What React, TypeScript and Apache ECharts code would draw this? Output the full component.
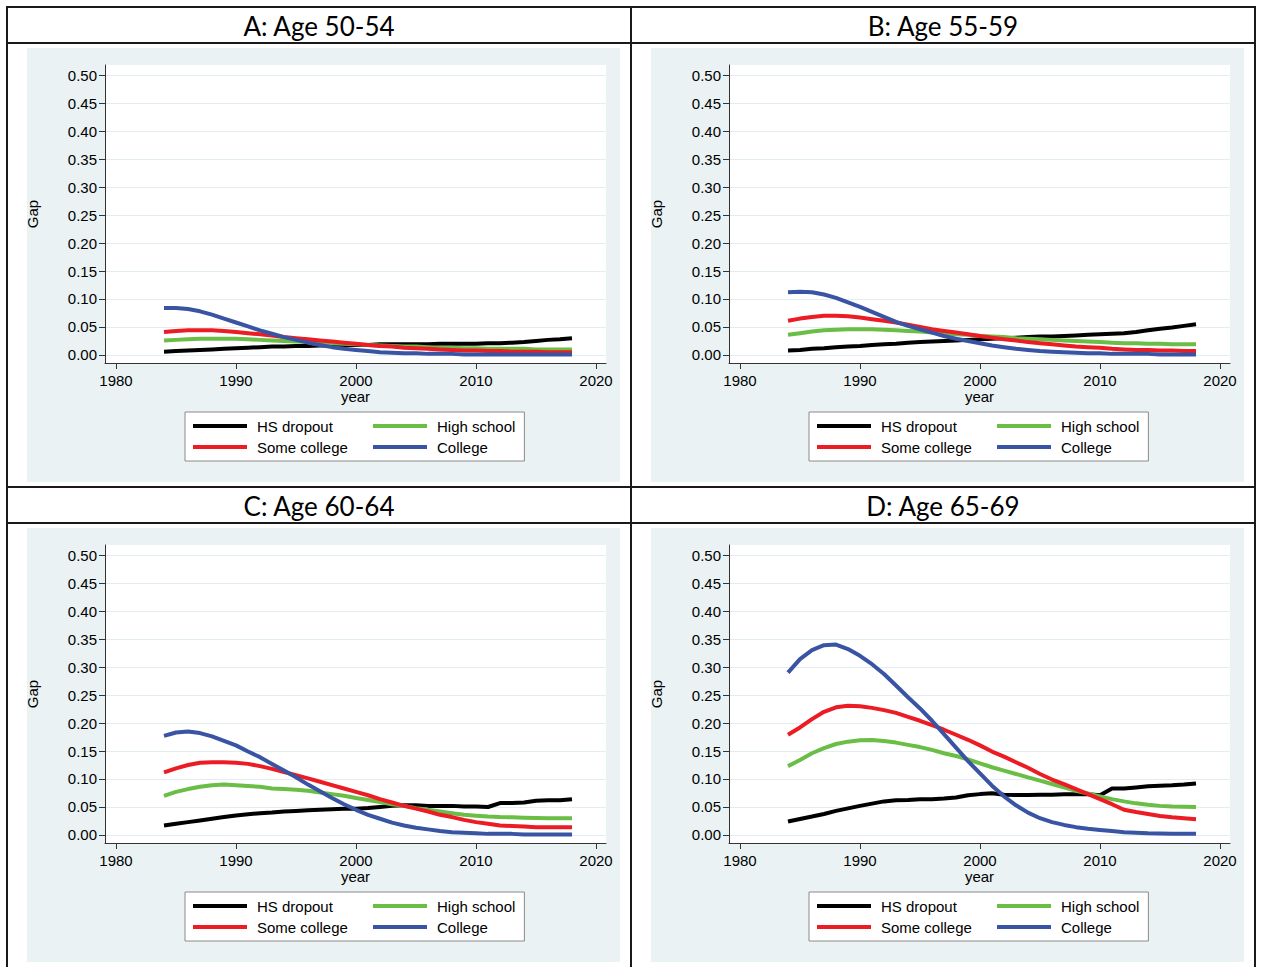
import React, { useEffect, useRef } from "react";
import * as echarts from "echarts";

const years = [1984, 1985, 1986, 1987, 1988, 1989, 1990, 1991, 1992, 1993, 1994, 1995, 1996, 1997, 1998, 1999, 2000, 2001, 2002, 2003, 2004, 2005, 2006, 2007, 2008, 2009, 2010, 2011, 2012, 2013, 2014, 2015, 2016, 2017, 2018];

const seriesNames = ["HS dropout", "High school", "Some college", "College"];
const seriesColors = ["#000000", "#6abd45", "#ec1c24", "#3a54a4"];
const xTicks = [1980, 1990, 2000, 2010, 2020];
const yTicks = [0, 0.05, 0.1, 0.15, 0.2, 0.25, 0.3, 0.35, 0.4, 0.45, 0.5];
const panelTitles = ["A: Age 50-54", "B: Age 55-59", "C: Age 60-64", "D: Age 65-69"];

// Panel A: Age 50-54
const A_dropout = [0.006, 0.007, 0.008, 0.009, 0.010, 0.011, 0.012, 0.013, 0.014, 0.015, 0.015, 0.016, 0.016, 0.017, 0.017, 0.018, 0.018, 0.018, 0.019, 0.019, 0.019, 0.019, 0.019, 0.020, 0.020, 0.020, 0.020, 0.021, 0.021, 0.022, 0.023, 0.025, 0.027, 0.028, 0.030];
const A_high = [0.026, 0.027, 0.028, 0.029, 0.029, 0.029, 0.029, 0.028, 0.027, 0.026, 0.025, 0.024, 0.023, 0.022, 0.021, 0.020, 0.019, 0.018, 0.017, 0.016, 0.015, 0.015, 0.014, 0.013, 0.013, 0.012, 0.012, 0.011, 0.011, 0.011, 0.011, 0.010, 0.010, 0.010, 0.010];
const A_some = [0.041, 0.043, 0.044, 0.044, 0.044, 0.043, 0.041, 0.039, 0.037, 0.035, 0.032, 0.030, 0.028, 0.026, 0.024, 0.022, 0.020, 0.018, 0.016, 0.015, 0.013, 0.012, 0.011, 0.010, 0.009, 0.008, 0.008, 0.007, 0.007, 0.006, 0.006, 0.006, 0.005, 0.005, 0.005];
const A_college = [0.084, 0.084, 0.082, 0.078, 0.072, 0.065, 0.058, 0.051, 0.044, 0.038, 0.032, 0.027, 0.022, 0.018, 0.014, 0.011, 0.009, 0.007, 0.005, 0.004, 0.003, 0.003, 0.002, 0.002, 0.002, 0.001, 0.001, 0.001, 0.001, 0.001, 0.001, 0.001, 0.001, 0.001, 0.001];

// Panel B: Age 55-59
const B_dropout = [0.008, 0.009, 0.011, 0.012, 0.014, 0.015, 0.016, 0.018, 0.019, 0.020, 0.022, 0.023, 0.024, 0.025, 0.026, 0.027, 0.028, 0.029, 0.030, 0.031, 0.032, 0.033, 0.033, 0.034, 0.035, 0.036, 0.037, 0.038, 0.039, 0.041, 0.044, 0.047, 0.049, 0.052, 0.055];
const B_high = [0.036, 0.039, 0.042, 0.044, 0.045, 0.046, 0.046, 0.046, 0.045, 0.044, 0.043, 0.042, 0.040, 0.039, 0.037, 0.036, 0.034, 0.033, 0.032, 0.030, 0.029, 0.028, 0.027, 0.026, 0.025, 0.024, 0.023, 0.022, 0.021, 0.021, 0.020, 0.020, 0.019, 0.019, 0.019];
const B_some = [0.061, 0.065, 0.068, 0.070, 0.070, 0.069, 0.067, 0.064, 0.061, 0.058, 0.054, 0.050, 0.046, 0.043, 0.040, 0.037, 0.034, 0.031, 0.028, 0.026, 0.023, 0.021, 0.019, 0.017, 0.015, 0.014, 0.013, 0.011, 0.010, 0.009, 0.009, 0.008, 0.008, 0.007, 0.007];
const B_college = [0.112, 0.113, 0.112, 0.108, 0.102, 0.094, 0.086, 0.077, 0.068, 0.059, 0.052, 0.046, 0.040, 0.034, 0.029, 0.025, 0.021, 0.017, 0.014, 0.011, 0.009, 0.007, 0.006, 0.005, 0.004, 0.003, 0.003, 0.002, 0.002, 0.002, 0.002, 0.001, 0.001, 0.001, 0.001];

// Panel C: Age 60-64
const C_dropout = [0.017, 0.020, 0.023, 0.026, 0.029, 0.032, 0.035, 0.037, 0.039, 0.040, 0.042, 0.043, 0.044, 0.045, 0.046, 0.047, 0.047, 0.048, 0.050, 0.052, 0.053, 0.053, 0.052, 0.052, 0.052, 0.051, 0.051, 0.050, 0.057, 0.057, 0.058, 0.061, 0.062, 0.062, 0.064];
const C_high = [0.070, 0.077, 0.082, 0.086, 0.089, 0.090, 0.089, 0.0875, 0.086, 0.083, 0.082, 0.081, 0.079, 0.076, 0.073, 0.070, 0.066, 0.0625, 0.059, 0.055, 0.052, 0.048, 0.045, 0.042, 0.039, 0.036, 0.0345, 0.033, 0.032, 0.0315, 0.031, 0.0305, 0.030, 0.030, 0.0298];
const C_some = [0.112, 0.119, 0.125, 0.129, 0.130, 0.130, 0.129, 0.127, 0.123, 0.118, 0.1125, 0.107, 0.101, 0.095, 0.089, 0.083, 0.077, 0.071, 0.064, 0.058, 0.052, 0.047, 0.042, 0.036, 0.032, 0.027, 0.023, 0.020, 0.017, 0.016, 0.015, 0.014, 0.014, 0.014, 0.014];
const C_college = [0.177, 0.183, 0.185, 0.182, 0.176, 0.168, 0.160, 0.149, 0.139, 0.127, 0.115, 0.103, 0.090, 0.078, 0.066, 0.055, 0.045, 0.036, 0.029, 0.022, 0.017, 0.013, 0.010, 0.007, 0.005, 0.004, 0.003, 0.002, 0.002, 0.002, 0.001, 0.001, 0.001, 0.001, 0.001];

// Panel D: Age 65-69
const D_dropout = [0.024, 0.0286, 0.033, 0.0375, 0.043, 0.0476, 0.052, 0.056, 0.060, 0.062, 0.0625, 0.064, 0.064, 0.065, 0.067, 0.071, 0.073, 0.0745, 0.072, 0.0714, 0.0714, 0.072, 0.072, 0.0726, 0.0726, 0.0726, 0.071, 0.083, 0.083, 0.085, 0.087, 0.088, 0.0887, 0.090, 0.092];
const D_high = [0.123, 0.134, 0.146, 0.155, 0.1625, 0.1667, 0.169, 0.1696, 0.168, 0.165, 0.161, 0.157, 0.152, 0.146, 0.141, 0.135, 0.128, 0.121, 0.115, 0.109, 0.103, 0.097, 0.091, 0.085, 0.079, 0.074, 0.069, 0.064, 0.060, 0.0565, 0.054, 0.052, 0.051, 0.0506, 0.050];
const D_some = [0.179, 0.192, 0.207, 0.220, 0.228, 0.231, 0.230, 0.227, 0.223, 0.218, 0.211, 0.204, 0.196, 0.188, 0.179, 0.170, 0.160, 0.149, 0.140, 0.130, 0.120, 0.109, 0.099, 0.091, 0.082, 0.073, 0.064, 0.055, 0.045, 0.041, 0.0375, 0.034, 0.0315, 0.030, 0.028];
const D_college = [0.290, 0.314, 0.330, 0.339, 0.340, 0.332, 0.320, 0.305, 0.2875, 0.267, 0.246, 0.226, 0.204, 0.180, 0.156, 0.132, 0.110, 0.088, 0.069, 0.053, 0.040, 0.030, 0.023, 0.018, 0.014, 0.011, 0.009, 0.007, 0.005, 0.004, 0.003, 0.0025, 0.002, 0.002, 0.002];

const panelData = [
  [A_dropout, A_high, A_some, A_college],
  [B_dropout, B_high, B_some, B_college],
  [C_dropout, C_high, C_some, C_college],
  [D_dropout, D_high, D_some, D_college],
];

const FONT = "'Liberation Sans', Arial, sans-serif";
const BG = "#eaf2f3";

export default function App() {
  const ref = useRef<HTMLDivElement>(null);

  useEffect(() => {
    if (!ref.current) return;
    const chart = echarts.init(ref.current, null, { renderer: "svg" });

    const offsets = [
      [0, 0],
      [624, 0],
      [0, 480],
      [624, 480],
    ];

    const grids: any[] = [];
    const xAxes: any[] = [];
    const yAxes: any[] = [];
    const series: any[] = [];
    const legends: any[] = [];
    const graphics: any[] = [];

    offsets.forEach(([dx, dy], p) => {
      grids.push({
        left: 105 + dx,
        top: 65 + dy,
        width: 501,
        height: 298,
        show: true,
        backgroundColor: "#ffffff",
        borderWidth: 0,
      });
      xAxes.push({
        type: "value",
        gridIndex: p,
        min: 1979.0833,
        max: 2020.8333,
        name: "year",
        nameLocation: "middle",
        nameGap: 26,
        nameTextStyle: { fontFamily: FONT, fontSize: 15, color: "#000" },
        axisLine: { show: true, onZero: false, lineStyle: { color: "#333", width: 1 } },
        axisTick: { show: true, length: 6, customValues: xTicks, lineStyle: { color: "#333" } },
        axisLabel: {
          customValues: xTicks,
          margin: 10,
          fontFamily: FONT,
          fontSize: 15,
          color: "#000",
          formatter: (v: number) => String(Math.round(v)),
        },
        splitLine: { show: false },
      });
      yAxes.push({
        type: "value",
        gridIndex: p,
        min: -0.0143,
        max: 0.5179,
        name: "Gap",
        nameLocation: "middle",
        nameGap: 65,
        nameRotate: 90,
        nameTextStyle: { fontFamily: FONT, fontSize: 15, color: "#000" },
        axisLine: { show: true, onZero: false, lineStyle: { color: "#333", width: 1 } },
        axisTick: { show: true, length: 6, customValues: yTicks, lineStyle: { color: "#333" } },
        axisLabel: {
          customValues: yTicks,
          margin: 8,
          fontFamily: FONT,
          fontSize: 15,
          color: "#000",
          formatter: (v: number) => v.toFixed(2),
        },
        splitLine: { show: true, lineStyle: { color: "#e3edef", width: 1 } },
      });

      panelData[p].forEach((vals, s) => {
        series.push({
          type: "line",
          name: seriesNames[s],
          xAxisIndex: p,
          yAxisIndex: p,
          data: years.map((y, i) => [y, vals[i]]),
          showSymbol: false,
          symbol: "none",
          smooth: false,
          lineStyle: { color: seriesColors[s], width: 4 },
          itemStyle: { color: seriesColors[s] },
          z: 3 + s,
        });
      });

      legends.push({
        orient: "vertical",
        left: 185 + dx,
        top: 412 + dy,
        height: 40,
        padding: [6, 9, 6, 8],
        itemGap: 5,
        itemWidth: 54,
        itemHeight: 4,
        icon: "rect",
        backgroundColor: "#ffffff",
        borderColor: "#8a8a8a",
        borderWidth: 1,
        borderRadius: 0,
        selectedMode: false,
        textStyle: { fontFamily: FONT, fontSize: 15, color: "#000", lineHeight: 16, padding: [0, 0, 0, 5] },
        data: [
          { name: "HS dropout", textStyle: { width: 111 } },
          { name: "Some college", textStyle: { width: 111 } },
          { name: "High school" },
          { name: "College" },
        ],
      });

      // panel background
      graphics.push({
        type: "rect",
        z: -100,
        shape: { x: 27 + dx, y: 48 + dy, width: 593, height: 434 },
        style: { fill: BG },
        silent: true,
      });
      // title
      graphics.push({
        type: "text",
        z: 100,
        x: 319 + dx,
        y: 26 + dy,
        style: {
          text: panelTitles[p],
          fontFamily: "Lato, 'Open Sans', sans-serif",
          fontSize: 26,
          fill: "#000",
          textAlign: "center",
          textVerticalAlign: "middle",
        },
        silent: true,
      });
    });

    const borderStyle = { stroke: "#1a1a1a", lineWidth: 2 };
    const hLines = [7, 43, 487, 523];
    hLines.forEach((y) => {
      graphics.push({ type: "line", z: 100, shape: { x1: 6, y1: y, x2: 1256, y2: y }, style: borderStyle, silent: true });
    });
    [7, 631, 1255].forEach((x) => {
      graphics.push({ type: "line", z: 100, shape: { x1: x, y1: 6, x2: x, y2: 967 }, style: borderStyle, silent: true });
    });

    chart.setOption({
      animation: false,
      backgroundColor: "#ffffff",
      grid: grids,
      xAxis: xAxes,
      yAxis: yAxes,
      legend: legends,
      series,
      graphic: graphics,
    });

    return () => chart.dispose();
  }, []);

  return (
    <div
      ref={ref}
      style={{ position: "fixed", left: 0, top: 0, width: 1264, height: 967 }}
    />
  );
}
